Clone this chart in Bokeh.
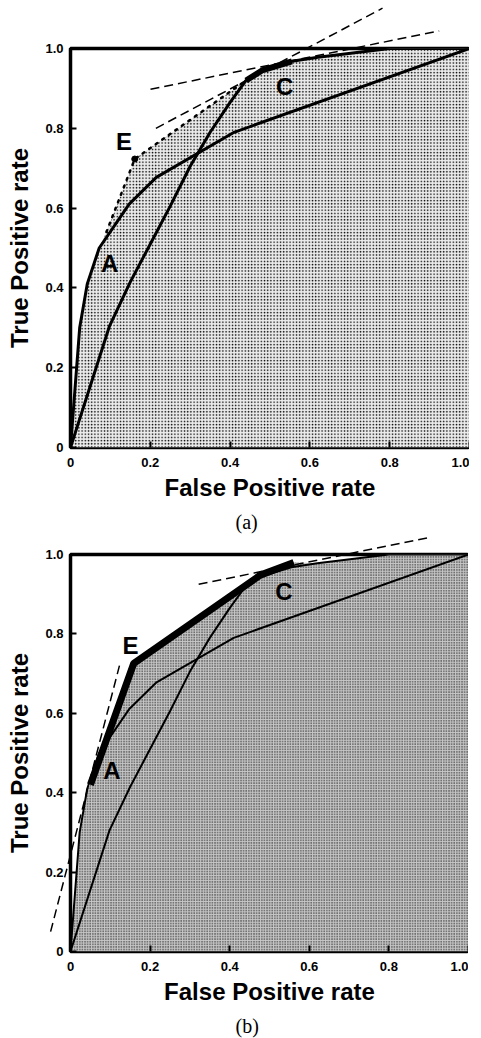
from bokeh.plotting import figure
from bokeh.models import FixedTicker, Title
from bokeh.layouts import column
from bokeh.embed import file_html
from bokeh.resources import INLINE
from bokeh.core.properties import value

# ---- data ----
fpr_A = [0.0, 0.023, 0.042, 0.072, 0.147, 0.215, 0.41, 1.0]
tpr_A = [0.0, 0.30, 0.41, 0.50, 0.61, 0.677, 0.79, 1.0]

fpr_C = [0.0, 0.098, 0.15, 0.20, 0.25, 0.30, 0.35, 0.40, 0.44, 0.48, 0.555, 0.62, 0.80, 1.0]
tpr_C = [0.0, 0.305, 0.415, 0.51, 0.605, 0.705, 0.79, 0.865, 0.92, 0.945, 0.968, 0.978, 1.0, 1.0]

# panel (a): dotted E segment, E point, thick C segment, iso-performance lines
fpr_E_dot = [0.09, 0.161, 0.44]
tpr_E_dot = [0.54, 0.723, 0.92]
fpr_E_pt = [0.161]
tpr_E_pt = [0.723]
fpr_C_thick = [0.44, 0.48, 0.555]
tpr_C_thick = [0.92, 0.945, 0.968]
iso_a_x0 = [0.214, 0.2005]
iso_a_y0 = [0.80, 0.898]
iso_a_x1 = [0.782, 0.924]
iso_a_y1 = [1.101, 1.044]
hull_a_x = [0.0, 0.023, 0.042, 0.072, 0.09, 0.161, 0.44, 0.555, 0.62, 0.80, 1.0, 1.0]
hull_a_y = [0.0, 0.30, 0.41, 0.50, 0.54, 0.723, 0.92, 0.968, 0.978, 1.0, 1.0, 0.0]

# panel (b): convex hull thick line, iso-performance lines
fpr_hull_b = [0.05, 0.159, 0.477, 0.561]
tpr_hull_b = [0.42, 0.726, 0.948, 0.98]
iso_b_x0 = [0.322, -0.05]
iso_b_y0 = [0.925, 0.05]
iso_b_x1 = [0.897, 0.123]
iso_b_y1 = [1.042, 0.72]
hull_b_x = [0.0, 0.023, 0.042, 0.05, 0.159, 0.477, 0.561, 0.62, 0.80, 1.0, 1.0]
hull_b_y = [0.0, 0.30, 0.41, 0.42, 0.726, 0.948, 0.98, 0.978, 1.0, 1.0, 0.0]

labels_a = ["A", "E", "C"]
labels_a_x = [0.098, 0.134, 0.537]
labels_a_y = [0.46, 0.768, 0.904]
labels_b = ["A", "E", "C"]
labels_b_x = [0.104, 0.151, 0.536]
labels_b_y = [0.457, 0.770, 0.906]

tick_vals = [0, 0.2, 0.4, 0.6, 0.8, 1.0]
tick_labels = ["0", "0.2", "0.4", "0.6", "0.8", "1.0"]

SANS = "Liberation Sans"
SERIF = "Liberation Serif"


def base_fig(fw, fh, top, caption):
    p = figure(frame_width=fw, frame_height=fh, x_range=(0, 1), y_range=(0, 1),
               output_backend="svg", toolbar_location=None,
               min_border_left=70, min_border_right=0, min_border_top=top,
               min_border_bottom=0)
    p.xgrid.visible = False
    p.ygrid.visible = False
    p.outline_line_color = "black"
    p.outline_line_width = 3.5
    p.outline_line_alpha = 1.0
    p.background_fill_color = "white"
    p.border_fill_color = "white"
    overrides = {v: l for v, l in zip(tick_vals, tick_labels)}
    for ax in (p.xaxis, p.yaxis):
        ax.ticker = FixedTicker(ticks=tick_vals)
        ax.major_label_overrides = overrides
        ax.axis_line_color = None
        ax.major_tick_in = 6
        ax.major_tick_out = 0
        ax.major_tick_line_width = 2
        ax.minor_tick_line_color = None
        ax.major_label_text_font = SANS
        ax.major_label_text_font_style = "bold"
        ax.major_label_text_font_size = "13px"
        ax.axis_label_text_font = SANS
        ax.axis_label_text_font_style = "bold"
        ax.axis_label_text_font_size = "24px"
        ax.axis_label_text_color = "black"
        ax.major_label_text_color = "black"
    p.xaxis.axis_label = "False Positive rate"
    p.yaxis.axis_label = "True Positive rate"
    p.xaxis.major_label_standoff = 10
    p.yaxis.major_label_standoff = 7
    p.xaxis.axis_label_standoff = 4
    p.yaxis.axis_label_standoff = 9
    cap = Title(text=caption, align="left", offset=165, text_font=SERIF,
                text_font_style="normal", text_font_size="20px", text_color="black")
    p.add_layout(cap, "below")
    return p


def hatch_area(p, xs, ys, scale, fill, weight):
    p.patch(xs, ys, fill_color=fill, line_color=None,
            hatch_pattern="dot", hatch_scale=scale, hatch_color="black",
            hatch_weight=weight)


# ---------------- panel (a) ----------------
pa = base_fig(399, 399, 48, "(a)")
hatch_area(pa, hull_a_x, hull_a_y, 3.2, "#ececec", 1.1)
pa.line(fpr_A, tpr_A, line_color="black", line_width=3)
pa.line(fpr_C, tpr_C, line_color="black", line_width=3)
pa.line(fpr_C_thick, tpr_C_thick, line_color="black", line_width=6)
pa.line(fpr_E_dot, tpr_E_dot, line_color="black", line_width=2.5,
        line_dash="2 6", line_cap="round")
pa.scatter(fpr_E_pt, tpr_E_pt, size=6, color="black")
for x0, y0, x1, y1 in zip(iso_a_x0, iso_a_y0, iso_a_x1, iso_a_y1):
    r = pa.line([x0, x1], [y0, y1], line_color="black", line_width=1.5,
                line_dash="9 5")
    r.level = "overlay"
pa.text(labels_a_x, labels_a_y, text=labels_a, text_font=value(SANS),
        text_font_style="bold", text_font_size="24px", text_align="center",
        text_baseline="middle", text_color="black")

# ---------------- panel (b) ----------------
pb = base_fig(398, 397, 17, "(b)")
hatch_area(pb, hull_b_x, hull_b_y, 2.6, "#c8c8c8", 1.3)
pb.line(fpr_A, tpr_A, line_color="black", line_width=2)
pb.line(fpr_C, tpr_C, line_color="black", line_width=2)
pb.line(fpr_hull_b, tpr_hull_b, line_color="black", line_width=7)
for x0, y0, x1, y1 in zip(iso_b_x0, iso_b_y0, iso_b_x1, iso_b_y1):
    r = pb.line([x0, x1], [y0, y1], line_color="black", line_width=1.5,
                line_dash="9 5")
    r.level = "overlay"
pb.text(labels_b_x, labels_b_y, text=labels_b, text_font=value(SANS),
        text_font_style="bold", text_font_size="24px", text_align="center",
        text_baseline="middle", text_color="black")

layout = column(pa, pb, spacing=0)
open("out.html", "w").write(file_html(layout, INLINE))
